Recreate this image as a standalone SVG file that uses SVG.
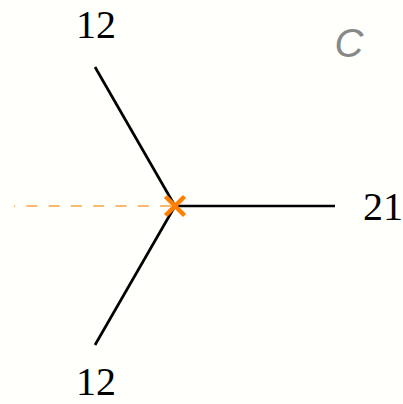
<svg xmlns="http://www.w3.org/2000/svg" width="403" height="404" viewBox="0 0 403 404">
<style>
.edge{stroke:#000;stroke-width:2.7;fill:none;stroke-linecap:butt}
.lbl{font-family:"Liberation Serif","DejaVu Serif",serif;font-size:40px;fill:#000;text-anchor:middle}
</style>
<rect width="403" height="404" fill="#fffffc"/>
<g id="connectors">
<line class="edge" x1="175" y1="206" x2="95" y2="67"/>
<line class="edge" x1="175" y1="206" x2="95" y2="345"/>
<line class="edge" x1="175" y1="206" x2="335" y2="206"/>
<line x1="14" y1="206" x2="175" y2="206" stroke="#f7a441" stroke-width="1.6" stroke-dasharray="11 11.3" stroke-dashoffset="10"/>
</g>
<g id="vertex">
<path d="M165.5 196.5 L184.5 215.5 M184.5 196.5 L165.5 215.5" stroke="#ff8000" stroke-width="4.5" stroke-linecap="butt"/>
</g>
<g id="label-top"><text class="lbl" x="96" y="38">12</text></g>
<g id="label-bottom"><text class="lbl" x="96" y="395">12</text></g>
<g id="label-right"><text class="lbl" x="383" y="220">21</text></g>
<g id="label-C"><text x="349" y="57" font-family="Liberation Sans,sans-serif" font-style="italic" font-size="40" fill="#888888" text-anchor="middle">C</text></g>
</svg>
